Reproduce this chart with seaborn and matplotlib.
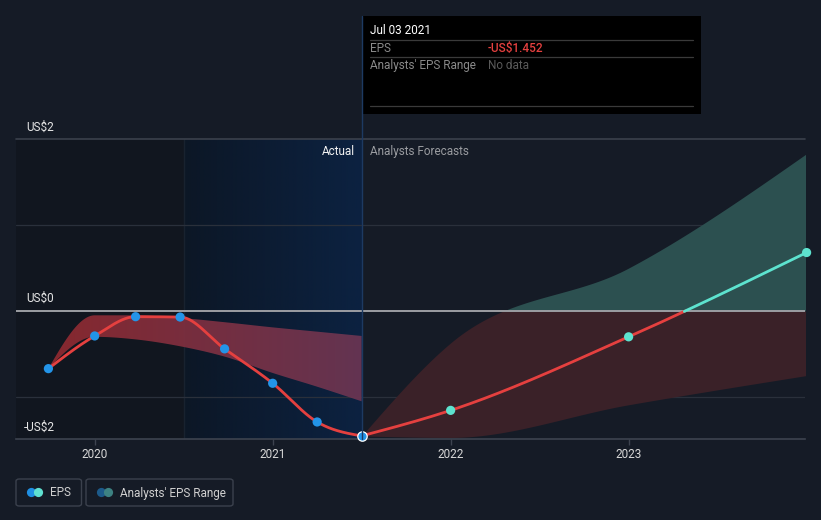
import numpy as np
import pandas as pd
import matplotlib
matplotlib.use("Agg")
import matplotlib.pyplot as plt
import seaborn as sns
from matplotlib.patches import Rectangle, FancyBboxPatch, Circle
from matplotlib.lines import Line2D
from matplotlib.colors import LinearSegmentedColormap

# ---------------- data ----------------
hist_t = [2019.74, 2020.0, 2020.23, 2020.48, 2020.73, 2021.0, 2021.25, 2021.5]
hist_eps = [-0.67, -0.29, -0.066, -0.07, -0.44, -0.84, -1.29, -1.452]
hist_hi = [-0.67, -0.05, -0.05, -0.08, -0.13, -0.19, -0.24, -0.29]
hist_lo = [-0.67, -0.30, -0.33, -0.41, -0.53, -0.72, -0.88, -1.05]
fc_t = [2021.5, 2022.0, 2023.0, 2024.0]
fc_eps = [-1.452, -1.155, -0.30, 0.68]
fc_hi = [-1.452, -0.37, 0.50, 1.83]
fc_lo = [-1.452, -1.47, -1.09, -0.75]
year_ticks = [2020, 2021, 2022, 2023]
year_labels = ["2020", "2021", "2022", "2023"]
y_label_text = ["US$2", "US$0", "-US$2"]
y_label_pos = [2.14, 0.151, -1.349]

W, H = 821, 520
BG = "#151b26"
RED = "#e5403f"
TEAL = "#5de3cf"
BLUE = "#2394e8"


def monotone(x, y, n=400):
    """d3 curveMonotoneX rendering of a series."""
    x = np.asarray(x, float); y = np.asarray(y, float)
    h = np.diff(x); s = np.diff(y) / h
    k = len(x)
    m = np.zeros(k)
    for i in range(1, k - 1):
        p = (s[i - 1] * h[i] + s[i] * h[i - 1]) / (h[i - 1] + h[i])
        m[i] = (np.sign(s[i - 1]) + np.sign(s[i])) * min(abs(s[i - 1]), abs(s[i]), 0.5 * abs(p))
    m[0] = (3 * s[0] - m[1]) / 2 if k > 2 else s[0]
    m[-1] = (3 * s[-1] - m[-2]) / 2 if k > 2 else s[-1]
    xs, ys = [], []
    for i in range(k - 1):
        t = np.linspace(0, 1, n, endpoint=(i == k - 2))
        h00 = 2 * t**3 - 3 * t**2 + 1
        h10 = t**3 - 2 * t**2 + t
        h01 = -2 * t**3 + 3 * t**2
        h11 = t**3 - t**2
        xs.append(x[i] + t * h[i])
        ys.append(h00 * y[i] + h10 * h[i] * m[i] + h01 * y[i + 1] + h11 * h[i] * m[i + 1])
    return np.concatenate(xs), np.concatenate(ys)


sns.set_theme(style="dark")
plt.rcParams["font.family"] = ["Roboto", "DejaVu Sans"]

fig = plt.figure(figsize=(W / 100, H / 100), dpi=100, facecolor=BG)


def fx(px):
    return px / W


def fy(py):
    return 1 - py / H


ax = fig.add_axes([fx(16), fy(439), fx(805) - fx(16), fy(139) - fy(439)])
ax.set_facecolor(BG)
x0, x1 = 2019.558, 2023.991
ymin, ymax = -1.488, 2.0

# shaded regions
ax.axvspan(x0, 2020.503, color="#11161f", zorder=0, lw=0)
blue_cmap = LinearSegmentedColormap.from_list("b", ["#0c1726", "#0c2241"])
ax.imshow(np.linspace(0, 1, 256).reshape(1, -1), cmap=blue_cmap, aspect="auto",
          extent=[2020.503, 2021.503, ymin, ymax], zorder=0.5)
ax.axvline(2020.503, color="#18222f", lw=1, zorder=0.6)

# grid
for v in [-1, 1]:
    ax.axhline(v, color="#2a303b", lw=0.9, zorder=1)
ax.axhline(2, color="#3b414c", lw=1.2, zorder=1, clip_on=False)
ax.axhline(0, color="#9c9ea3", lw=1.4, zorder=3)

# historical analyst band with gradient
hx, hh = monotone(hist_t, hist_hi)
_, hl = monotone(hist_t, hist_lo)
poly = ax.fill_between(hx, hl, hh, color="none", lw=0)
band_cmap = LinearSegmentedColormap.from_list("r", ["#8e2a30", "#693653"])
im = ax.imshow(np.linspace(0, 1, 256).reshape(1, -1), cmap=band_cmap, aspect="auto",
               extent=[hist_t[0], hist_t[-1], ymin, 0], zorder=2, alpha=0.95)
im.set_clip_path(poly.get_paths()[0], transform=ax.transData)

# forecast band
fx_, fh = monotone(fc_t, fc_hi)
_, fl = monotone(fc_t, fc_lo)
ax.fill_between(fx_, np.maximum(fl, 0), np.maximum(fh, 0), color="#2c5050", lw=0, zorder=2)
ax.fill_between(fx_, np.minimum(fl, 0), np.minimum(fh, 0), color="#3a2128", lw=0, zorder=2)

# EPS lines
ex, ey = monotone(hist_t, hist_eps)
ax.plot(ex, ey, color=RED, lw=2.0, zorder=4, solid_capstyle="round")
gx, gy = monotone(fc_t, fc_eps, n=1500)
ax.plot(gx, np.where(gy <= 0.005, gy, np.nan), color=RED, lw=2.0, zorder=4)
ax.plot(gx, np.where(gy >= -0.005, gy, np.nan), color=TEAL, lw=2.0, zorder=4)

# markers
hist_df = pd.DataFrame({"t": hist_t[:-1], "eps": hist_eps[:-1]})
sns.scatterplot(data=hist_df, x="t", y="eps", ax=ax, color=BLUE, s=44,
                edgecolor="none", zorder=5, clip_on=False)
last_df = pd.DataFrame({"t": hist_t[-1:], "eps": hist_eps[-1:]})
sns.scatterplot(data=last_df, x="t", y="eps", ax=ax, color=BLUE, s=46,
                edgecolor="white", linewidth=0.9, zorder=6, clip_on=False)
fc_df = pd.DataFrame({"t": fc_t[1:], "eps": fc_eps[1:]})
sns.scatterplot(data=fc_df, x="t", y="eps", ax=ax, color=TEAL, s=44,
                edgecolor="none", zorder=5, clip_on=False)

ax.set_xlim(x0, x1)
ax.set_ylim(ymin, ymax)

# axes styling
for sp in ["top", "left", "right"]:
    ax.spines[sp].set_visible(False)
ax.spines["bottom"].set_color("#3d434f")
ax.spines["bottom"].set_linewidth(1.2)
ax.set_xticks(year_ticks)
ax.set_xticklabels(year_labels)
ax.set_yticks([])
ax.tick_params(axis="x", colors="#d8d8d8", labelsize=8.5, length=4, width=1,
               color="#3d434f", pad=2.5, bottom=True)
ax.set_xlabel("")
ax.set_ylabel("")
ax.grid(False)

for lab, v in zip(y_label_text, y_label_pos):
    xoff = 0.0102 if lab.startswith("-") else 0.0127
    ax.text(xoff, v, lab, transform=ax.get_yaxis_transform(), clip_on=False,
            color="#e6e6e6", fontsize=8.5, va="center", ha="left")

ax.text(2021.46, 1.86, "Actual", color="#f2f2f2", fontsize=8.5, ha="right", va="center")
ax.text(2021.545, 1.86, "Analysts Forecasts", color="#9a9ca0", fontsize=8.5, ha="left", va="center")

# vertical divider line extending to tooltip
fig.add_artist(Line2D([fx(362.3), fx(362.3)], [fy(439), fy(16)], color="#1d3a62", lw=1.0))

# tooltip
fig.add_artist(Rectangle((fx(362), fy(114)), fx(701) - fx(362), fy(16) - fy(114),
                         transform=fig.transFigure, facecolor="black", edgecolor="none"))
for yy in [40, 57, 106]:
    fig.add_artist(Line2D([fx(370), fx(693)], [fy(yy), fy(yy)], color="#3a3a3a", lw=0.9))
fig.text(fx(370), fy(31), "Jul 03 2021", color="white", fontsize=8.5, va="center")
fig.text(fx(370), fy(48.5), "EPS", color="#8a8a8a", fontsize=8.5, va="center")
fig.text(fx(488), fy(48.5), "-US$1.452", color="#e5403f", fontsize=8.5, va="center",
         fontweight="medium")
fig.text(fx(370), fy(65.5), "Analysts' EPS Range", color="#8a8a8a", fontsize=8.5, va="center")
fig.text(fx(488), fy(65.5), "No data", color="#5a5a5a", fontsize=8.5, va="center")

# legend
ax2 = fig.add_axes([0, 0, 1, 1], facecolor="none")
ax2.set_xlim(0, W); ax2.set_ylim(H, 0); ax2.axis("off")


def legend_box(xa, xb, c1, c2, label, tx):
    fig.add_artist(FancyBboxPatch((fx(xa), fy(506)), fx(xb) - fx(xa), fy(479) - fy(506),
                                  boxstyle="round,pad=0,rounding_size=0.004",
                                  transform=fig.transFigure, facecolor="none",
                                  edgecolor="#3b414d", lw=1.0))
    ax2.add_patch(Circle((xa + 15.5, 492.5), 4.6, color=c1, lw=0))
    ax2.add_patch(Circle((xa + 22.5, 492.5), 4.6, color=c2, lw=0))
    fig.text(fx(tx), fy(493), label, color="#d0d0d0", fontsize=8.5, va="center")


legend_box(16, 81.5, "#1f8fe2", "#5fe0d0", "EPS", 50)
legend_box(86, 233, "#1c5a8a", "#3d8282", "Analysts' EPS Range", 120)

fig.savefig("out.png", dpi=100, facecolor=BG)
